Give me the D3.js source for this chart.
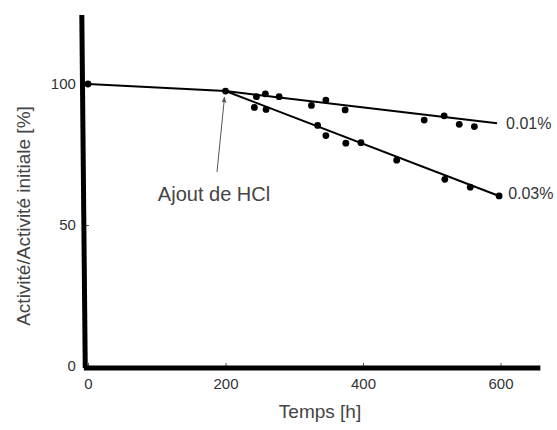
<!DOCTYPE html>
<html>
<head>
<meta charset="utf-8">
<script src="https://cdn.jsdelivr.net/npm/d3@7"></script>
<style>
  body { margin: 0; background: #fff; }
  svg { display: block; font-family: "Liberation Sans", Arial, sans-serif; }
</style>
</head>
<body>
<svg id="chart" width="557" height="430"></svg>
<script>
// values
const xTicks = [0, 200, 400, 600];
const yTicks = [0, 50, 100];

const startPoint = [0, 100];
const hclPoint = [200, 97.5];

const hours01 = [245, 258, 278, 325, 346, 374, 489, 518, 540, 562];
const act01 = [95.5, 96.5, 95.5, 92.4, 94.3, 90.8, 87.2, 88.7, 85.7, 84.9];
const hours03 = [242, 259, 334, 346, 375, 397, 449, 519, 556, 598];
const act03 = [91.7, 91.0, 85.3, 81.7, 79.0, 79.2, 73.0, 66.2, 63.4, 60.3];

const lineHours01 = [0, 200, 595];
const lineAct01 = [100, 97.5, 86.1];
const lineHours03 = [200, 598];
const lineAct03 = [97.5, 60.3];

const seriesLabels = ["0.01%", "0.03%"];

const svg = d3.select("#chart");

const x = d3.scaleLinear().domain([0, 600]).range([88, 500.5]);
const y = d3.scaleLinear().domain([0, 100]).range([366, 84]);

// axes: thin inward ticks, thick hand drawn frame lines
const xAxis = svg.append("g")
    .attr("transform", "translate(0," + y(-0.7) + ")")
    .call(d3.axisBottom(x).tickValues(xTicks).tickSize(-5).tickSizeOuter(0).tickPadding(10));
xAxis.select(".domain").remove();
xAxis.selectAll("text").style("font-size", "15px").attr("fill", "#333");

const yAxis = svg.append("g")
    .attr("transform", "translate(" + x(-6) + ",0)")
    .call(d3.axisLeft(y).tickValues(yTicks).tickSize(-5).tickSizeOuter(0).tickPadding(8));
yAxis.select(".domain").remove();
yAxis.selectAll("text").style("font-size", "15px").attr("fill", "#333");
yAxis.selectAll("line").attr("stroke", "#555");
xAxis.selectAll("line").attr("stroke", "#555");

svg.append("line")
    .attr("x1", x(-9)).attr("y1", y(124.5))
    .attr("x2", x(-4)).attr("y2", y(-0.7))
    .attr("stroke", "#000").attr("stroke-width", 5);
svg.append("line")
    .attr("x1", x(-6)).attr("y1", y(-0.7))
    .attr("x2", x(658)).attr("y2", y(-0.7))
    .attr("stroke", "#000").attr("stroke-width", 5);

// fitted lines
const line = d3.line().x(d => x(d[0])).y(d => y(d[1]));

svg.append("path")
    .datum(d3.zip(lineHours01, lineAct01))
    .attr("d", line)
    .attr("fill", "none").attr("stroke", "#000").attr("stroke-width", 2);
svg.append("path")
    .datum(d3.zip(lineHours03, lineAct03))
    .attr("d", line)
    .attr("fill", "none").attr("stroke", "#000").attr("stroke-width", 2);

// measured points
const points = [startPoint, hclPoint]
    .concat(d3.zip(hours01, act01))
    .concat(d3.zip(hours03, act03));

svg.selectAll("circle.pt")
    .data(points)
    .enter()
    .append("circle")
    .attr("class", "pt")
    .attr("cx", d => x(d[0]))
    .attr("cy", d => y(d[1]))
    .attr("r", 3.4)
    .attr("fill", "#000");

// series labels at line ends
svg.append("text")
    .attr("x", x(lineHours01[2]) + 9)
    .attr("y", y(lineAct01[2]))
    .attr("dy", "0.35em")
    .style("font-size", "16px")
    .attr("fill", "#333")
    .text(seriesLabels[0]);
svg.append("text")
    .attr("x", x(lineHours03[1]) + 9)
    .attr("y", y(lineAct03[1]) - 3)
    .attr("dy", "0.35em")
    .style("font-size", "16px")
    .attr("fill", "#333")
    .text(seriesLabels[1]);

// annotation
svg.append("defs").append("marker")
    .attr("id", "tip")
    .attr("viewBox", "0 0 10 10")
    .attr("refX", 9).attr("refY", 5)
    .attr("markerWidth", 6).attr("markerHeight", 6)
    .attr("orient", "auto")
    .append("path")
    .attr("d", "M0,1L10,5L0,9z")
    .attr("fill", "#555");

svg.append("line")
    .attr("x1", 217).attr("y1", 172)
    .attr("x2", x(hclPoint[0]) - 1).attr("y2", y(hclPoint[1]) + 6)
    .attr("stroke", "#555").attr("stroke-width", 1)
    .attr("marker-end", "url(#tip)");

svg.append("text")
    .attr("x", 214).attr("y", 201)
    .attr("text-anchor", "middle")
    .style("font-size", "20px")
    .attr("fill", "#444")
    .text("Ajout de HCl");

// axis titles
svg.append("text")
    .attr("x", 320).attr("y", 418)
    .attr("text-anchor", "middle")
    .style("font-size", "19px")
    .attr("fill", "#444")
    .text("Temps [h]");

svg.append("text")
    .attr("transform", "translate(30,216) rotate(-90)")
    .attr("text-anchor", "middle")
    .style("font-size", "19px")
    .attr("fill", "#444")
    .text("Activité/Activité initiale [%]");
</script>
</body>
</html>
